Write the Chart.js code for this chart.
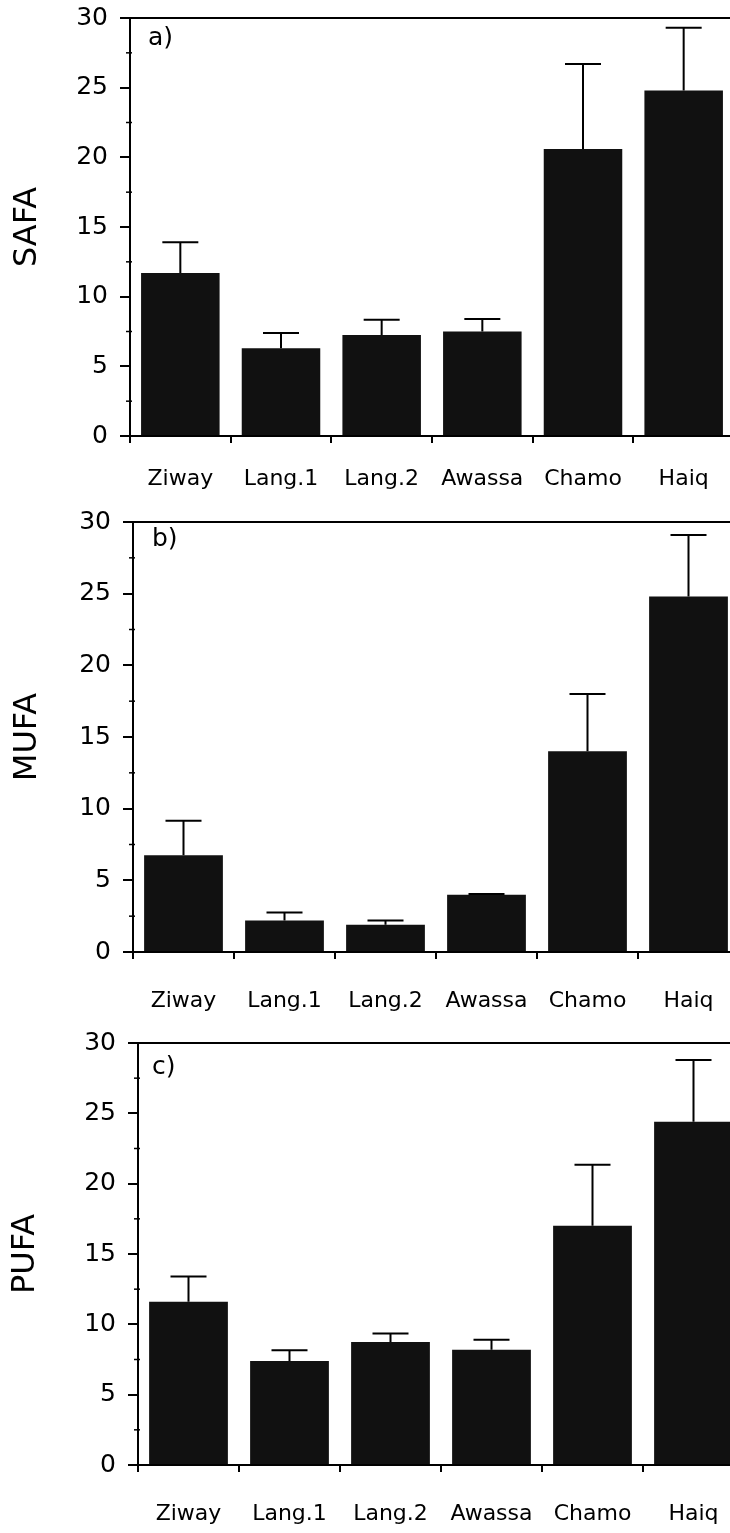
<!DOCTYPE html>
<html>
<head>
<meta charset="utf-8">
<script src="https://cdn.jsdelivr.net/npm/chart.js@4/dist/chart.umd.min.js"></script>
<style>
  html, body { margin: 0; padding: 0; background: #fff; width: 730px; height: 1533px; overflow: hidden; }
  .panel { position: absolute; left: 0; }
</style>
</head>
<body>
<div class="panel" style="top:0px"><canvas id="chartA"></canvas></div>
<div class="panel" style="top:500px"><canvas id="chartB"></canvas></div>
<div class="panel" style="top:1020px"><canvas id="chartC"></canvas></div>
<script>
// Seen
const categories = ['Ziway', 'Lang.1', 'Lang.2', 'Awassa', 'Chamo', 'Haiq'];
const yTicks = [0, 5, 10, 15, 20, 25, 30];

// Mittelwerte und Standardabweichung (nur obere Fehlerbalken)
const safa = [11.7, 6.3, 7.25, 7.5, 20.6, 24.8];
const safaSd = [2.2, 1.1, 1.1, 0.9, 6.1, 4.5];
const mufa = [6.75, 2.2, 1.9, 4.0, 14.0, 24.8];
const mufaSd = [2.4, 0.55, 0.3, 0.05, 4.0, 4.3];
const pufa = [11.6, 7.4, 8.75, 8.2, 17.0, 24.4];
const pufaSd = [1.8, 0.75, 0.6, 0.7, 4.35, 4.4];

const FONT = "'DejaVu Sans', 'Liberation Sans', Arial, sans-serif";

// Fehlerbalken, Nebenstriche, obere Linie und Panel-Buchstabe
const decorPlugin = {
    id: 'decor',
    afterDatasetsDraw(chart) {
        const ctx = chart.ctx;
        const y = chart.scales.y;
        const area = chart.chartArea;
        const opts = chart.options.plugins.decor;
        const values = chart.data.datasets[0].data;
        ctx.save();
        ctx.strokeStyle = '#000';
        ctx.lineWidth = 2;
        chart.getDatasetMeta(0).data.forEach((bar, i) => {
            const top = y.getPixelForValue(values[i] + opts.sd[i]);
            ctx.beginPath();
            ctx.moveTo(bar.x, bar.y);
            ctx.lineTo(bar.x, top);
            ctx.moveTo(bar.x - 18, top);
            ctx.lineTo(bar.x + 18, top);
            ctx.stroke();
        });
        // obere Rahmenlinie
        ctx.beginPath();
        ctx.moveTo(area.left, area.top);
        ctx.lineTo(area.right, area.top);
        ctx.stroke();
        // Nebenstriche bei 2.5, 7.5, ...
        ctx.lineWidth = 1.5;
        for (let v = 2.5; v < 30; v += 5) {
            const py = y.getPixelForValue(v);
            ctx.beginPath();
            ctx.moveTo(area.left - 4, py);
            ctx.lineTo(area.left + 2, py);
            ctx.stroke();
        }
        ctx.fillStyle = '#000';
        ctx.font = '25px ' + FONT;
        ctx.textBaseline = 'top';
        ctx.textAlign = 'left';
        ctx.fillText(opts.letter, area.left + opts.lx, area.top + opts.ly);
        ctx.restore();
    }
};

function makeChart(id, values, sd, title, letter, geo) {
    const canvas = document.getElementById(id);
    canvas.width = geo.width;
    canvas.height = geo.padTop + geo.plotH + geo.xH;
    return new Chart(canvas, {
        type: 'bar',
        data: {
            labels: categories,
            datasets: [{
                data: values,
                backgroundColor: '#111',
                borderWidth: 0,
                barPercentage: 0.78,
                categoryPercentage: 1.0
            }]
        },
        options: {
            responsive: false,
            animation: false,
            layout: { padding: { top: geo.padTop, left: 0, right: 0, bottom: 0 } },
            plugins: {
                legend: { display: false },
                tooltip: { enabled: false },
                decor: { sd: sd, letter: letter, lx: geo.lx, ly: geo.ly }
            },
            scales: {
                x: {
                    grid: { display: true, drawOnChartArea: false, offset: true, tickLength: 7, color: '#000', lineWidth: 2 },
                    border: { display: true, color: '#000', width: 2 },
                    ticks: { color: '#000', font: { family: FONT, size: 22 }, padding: geo.xPad, maxRotation: 0, autoSkip: false },
                    afterFit: s => { s.height = geo.xH; s.paddingLeft = 0; s.paddingRight = 0; }
                },
                y: {
                    min: 0,
                    max: 30,
                    afterBuildTicks: s => { s.ticks = yTicks.map(v => ({ value: v })); },
                    grid: { display: true, drawOnChartArea: false, tickLength: 10, color: '#000', lineWidth: 2 },
                    border: { display: true, color: '#000', width: 2 },
                    ticks: { color: '#000', font: { family: FONT, size: 25 }, padding: 12 },
                    title: { display: true, text: title, color: '#000', font: { family: FONT, size: 32 }, padding: { top: geo.tPad, bottom: 0 } },
                    afterFit: s => { s.width = geo.yW; s.paddingTop = 0; s.paddingBottom = 0; }
                }
            }
        },
        plugins: [decorPlugin]
    });
}

makeChart('chartA', safa, safaSd, 'SAFA', 'a)',
    { width: 734, padTop: 18, plotH: 418, xH: 60, yW: 130, xPad: 23, tPad: 8, lx: 18, ly: 8 });
makeChart('chartB', mufa, mufaSd, 'MUFA', 'b)',
    { width: 739, padTop: 22, plotH: 430, xH: 70, yW: 133, xPad: 29, tPad: 8, lx: 19, ly: 5 });
makeChart('chartC', pufa, pufaSd, 'PUFA', 'c)',
    { width: 744, padTop: 23, plotH: 422, xH: 68, yW: 138, xPad: 29, tPad: 6, lx: 14, ly: 12 });
</script>
</body>
</html>
